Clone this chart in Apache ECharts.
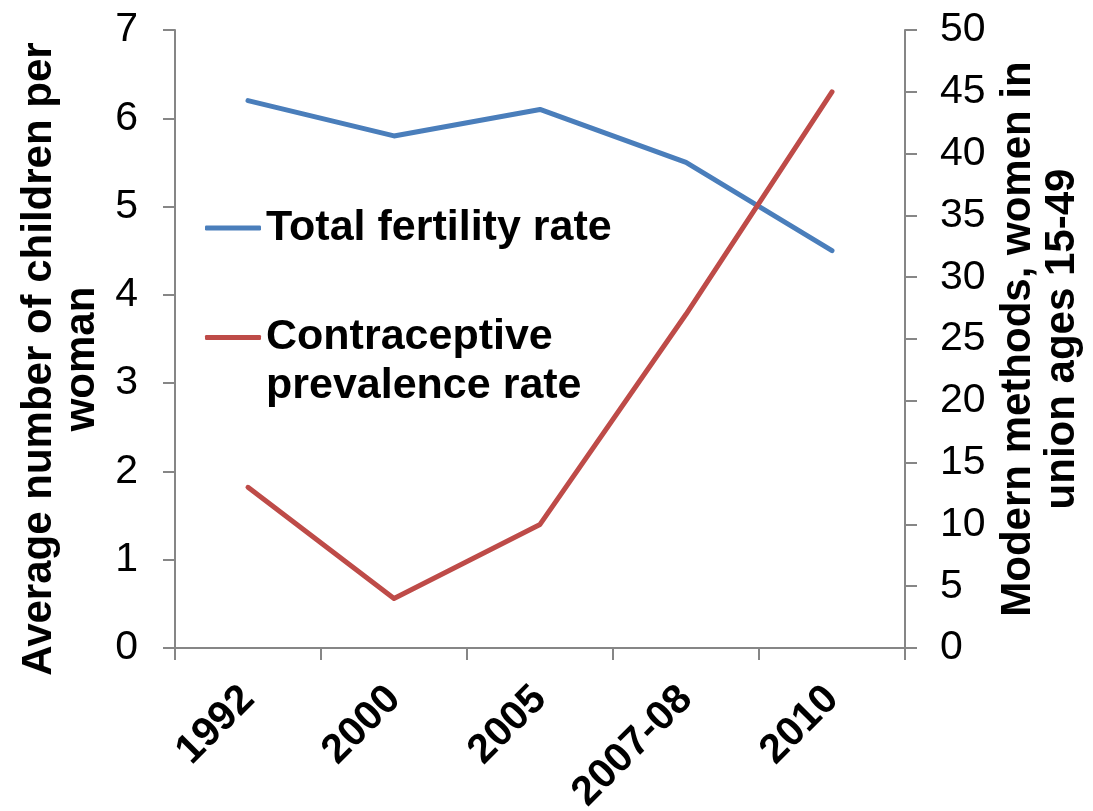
<!DOCTYPE html>
<html>
<head>
<meta charset="utf-8">
<script src="https://cdn.jsdelivr.net/npm/echarts@6/dist/echarts.min.js"></script>
<style>
  html, body { margin: 0; padding: 0; background: #fff; }
  #chart { width: 1093px; height: 811px; }
</style>
</head>
<body>
<div id="chart"></div>
<script>
// Survey rounds
const years = ['1992', '2000', '2005', '2007-08', '2010'];
// Average number of children per woman
const fertility = [6.2, 5.8, 6.1, 5.5, 4.5];
// Modern methods, % of women in union ages 15-49
const contraceptive = [13, 4, 10, 27, 45];

const leftTicks = { min: 0, max: 7, interval: 1 };
const rightTicks = { min: 0, max: 50, interval: 5 };

const FONT = '"Liberation Sans", Arial, sans-serif';
const AXIS_GRAY = '#868686';
const BLUE = '#4A7EBB';
const RED = '#BE4B48';

const chart = echarts.init(document.getElementById('chart'), null, { renderer: 'canvas' });

const axisCommon = {
  axisLine: { show: true, lineStyle: { color: AXIS_GRAY, width: 2 } },
  axisTick: { show: true, inside: false, length: 12, lineStyle: { color: AXIS_GRAY, width: 2 } },
  splitLine: { show: false }
};

chart.setOption({
  animation: false,
  backgroundColor: '#fff',
  grid: { left: 175, right: 188, top: 30, bottom: 163, containLabel: false, outerBoundsMode: 'none' },
  legend: [
    {
      data: ['Total fertility rate'],
      left: 205, top: 204, padding: 0,
      icon: 'roundRect', itemWidth: 56, itemHeight: 5,
      textStyle: { fontFamily: FONT, fontSize: 43, fontWeight: 'bold', color: '#000', lineHeight: 48 }
    },
    {
      data: ['Contraceptive prevalence rate'],
      left: 205, top: 264, padding: 0,
      icon: 'roundRect', itemWidth: 56, itemHeight: 5,
      // blank first line keeps the marker level with "Contraceptive"
      formatter: () => ' \nContraceptive\nprevalence rate',
      textStyle: {
        fontFamily: FONT, fontSize: 43, fontWeight: 'bold', color: '#000',
        lineHeight: 49
      }
    }
  ],
  xAxis: {
    type: 'category',
    data: years,
    boundaryGap: true,
    ...axisCommon,
    axisTick: { ...axisCommon.axisTick, alignWithLabel: false },
    axisLabel: {
      rotate: 45, margin: 45, align: 'right', verticalAlign: 'middle',
      fontFamily: FONT, fontSize: 41, fontWeight: 'bold', color: '#000'
    }
  },
  yAxis: [
    {
      type: 'value', position: 'left',
      ...leftTicks,
      ...axisCommon,
      axisLabel: { margin: 37, fontFamily: FONT, fontSize: 41, color: '#000' },
      name: 'Average number of children per\nwoman',
      nameLocation: 'middle', nameRotate: 90, nameGap: 50,
      nameTextStyle: {
        fontFamily: FONT, fontSize: 42, fontWeight: 'bold', color: '#000',
        lineHeight: 43, align: 'center', padding: [0, 40, 0, 0]
      }
    },
    {
      type: 'value', position: 'right',
      ...rightTicks,
      ...axisCommon,
      axisLabel: { margin: 35, fontFamily: FONT, fontSize: 41, color: '#000' },
      name: 'Modern methods, women in\nunion ages 15-49',
      nameLocation: 'middle', nameRotate: 90, nameGap: 90,
      nameTextStyle: {
        fontFamily: FONT, fontSize: 42, fontWeight: 'bold', color: '#000',
        lineHeight: 44, align: 'center'
      }
    }
  ],
  series: [
    {
      name: 'Total fertility rate',
      type: 'line', yAxisIndex: 0,
      data: fertility,
      symbol: 'none',
      lineStyle: { color: BLUE, width: 5, cap: 'round', join: 'round' },
      itemStyle: { color: BLUE }
    },
    {
      name: 'Contraceptive prevalence rate',
      type: 'line', yAxisIndex: 1,
      data: contraceptive,
      symbol: 'none',
      lineStyle: { color: RED, width: 5, cap: 'round', join: 'round' },
      itemStyle: { color: RED }
    }
  ]
});
</script>
</body>
</html>
